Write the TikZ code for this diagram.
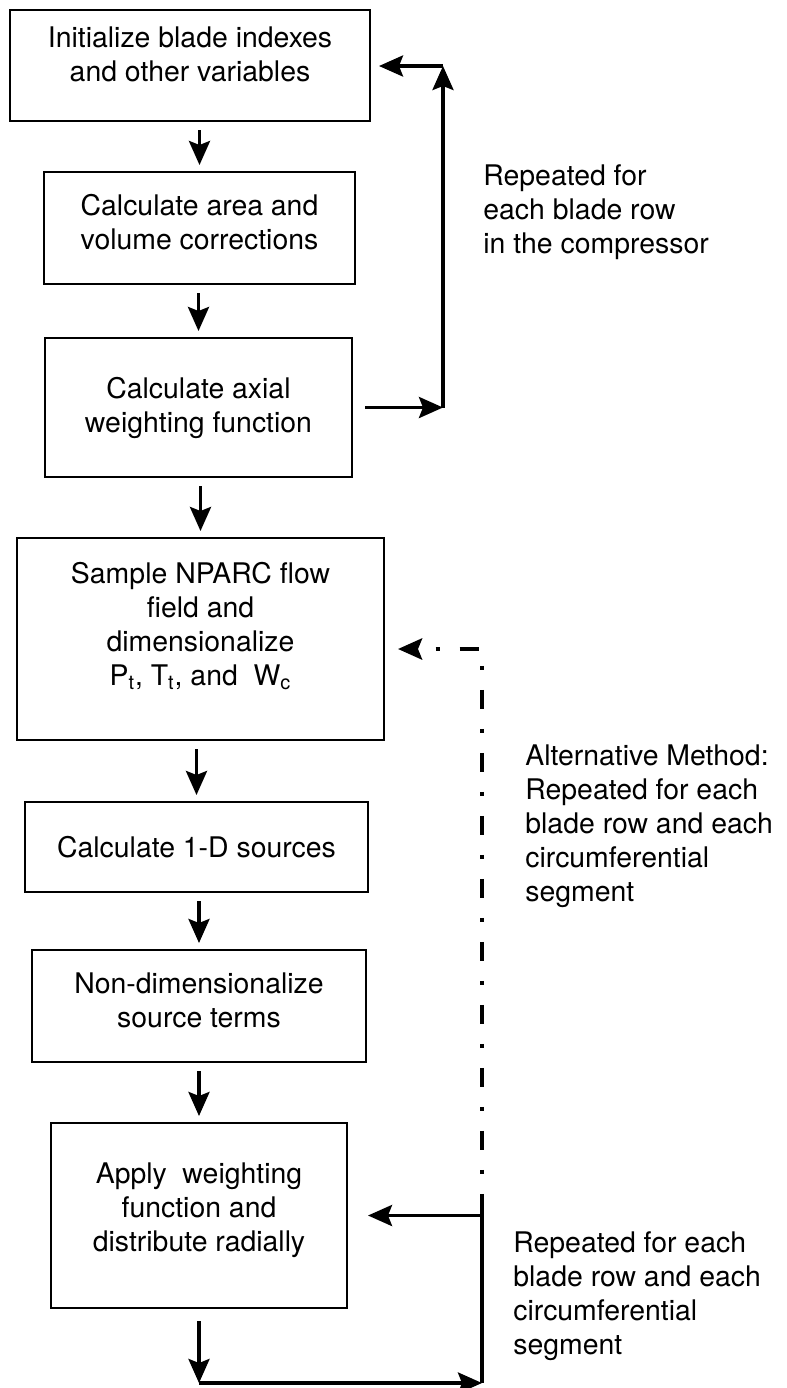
\documentclass[tikz,border=0pt]{standalone}
\usepackage{fontspec}
\setmainfont{TeX Gyre Heros}
\usetikzlibrary{arrows.meta}

\tikzset{
  stepbox/.style={draw, line width=1pt, align=center, inner sep=0pt},
  flow/.style={line width=1.8pt, -{Stealth[length=12pt, width=10.5pt, inset=2pt]}},
  altflow/.style={line width=2.2pt, dash pattern=on 9.5pt off 10pt on 2pt off 10pt,
    {Stealth[length=12pt, width=10.5pt, inset=2pt]}-},
  note/.style={anchor=west, align=left, inner sep=0pt}
}

\begin{document}
\begin{tikzpicture}[x=0.5pt, y=-0.5pt, font=\fontsize{14.2pt}{17pt}\selectfont]
  \useasboundingbox (0,0) rectangle (787,1388);

  % process steps, top to bottom
  \node[stepbox, minimum width=180pt, minimum height=55.5pt, text depth=11pt] (init) at (190,65.5)
    {Initialize blade indexes\\and other variables};
  \node[stepbox, minimum width=155.5pt, minimum height=56pt, text depth=6pt] (area) at (199.5,228)
    {Calculate area and\\volume corrections};
  \node[stepbox, minimum width=153.5pt, minimum height=69.5pt] (axial) at (198.5,407.5)
    {Calculate axial\\weighting function};
  \node[stepbox, minimum width=183.5pt, minimum height=101pt, text depth=15pt] (sample) at (200.5,639)
    {Sample NPARC flow\\field and\\dimensionalize\\P\textsubscript{t}, T\textsubscript{t}, and~ W\textsubscript{c}};
  \node[stepbox, minimum width=171.5pt, minimum height=45pt] (oned) at (196.5,847)
    {Calculate 1-D sources};
  \node[stepbox, minimum width=167pt, minimum height=56pt, text depth=6pt] (nondim) at (199,1006)
    {Non-dimensionalize\\source terms};
  \node[stepbox, minimum width=148pt, minimum height=92.5pt, text depth=8pt] (apply) at (199,1215.5)
    {Apply~ weighting\\function and\\distribute radially};

  \foreach \a/\b in {init/area, area/axial, axial/sample, sample/oned, oned/nondim, nondim/apply}
    \draw[flow, shorten <=4pt, shorten >=3pt] (\a.south -| \b.north) -- (\b.north);   % step to step

  % blade row loop
  \coordinate (looptop) at (443,66);
  \draw[flow, shorten <=6pt] (axial.east) -- (axial.east -| looptop);
  \draw[flow] (axial.east -| looptop) -- (looptop);
  \draw[flow, shorten >=4pt] (looptop) -- (looptop -| init.east);
  \node[note] (rowloop) at (483,212) {Repeated for\\each blade row\\in the compressor};

  % segment loop and its alternative
  \coordinate (retbot) at (482,1383);
  \coordinate (altbot) at (482,1196);
  \coordinate (altcorner) at (482,649);
  \draw[flow, shorten <=6pt] (apply.south) -- (apply.south |- retbot);
  \draw[flow] (apply.south |- retbot) -- (retbot);
  \draw[line width=1.8pt] (retbot) -- (altbot);                             % solid riser
  \draw[flow, shorten >=10pt] (apply.east -| retbot) -- (apply.east);
  \draw[altflow, dash phase=10pt, shorten <=6.5pt] (altcorner -| sample.east) -- (altcorner) -- (altbot);
  \node[note] (altnote) at (525,826)
    {Alternative Method:\\Repeated for each\\blade row and each\\circumferential\\segment};
  \node[note] (segloop) at (513,1296)
    {Repeated for each\\blade row and each\\circumferential\\segment};
\end{tikzpicture}
\end{document}
